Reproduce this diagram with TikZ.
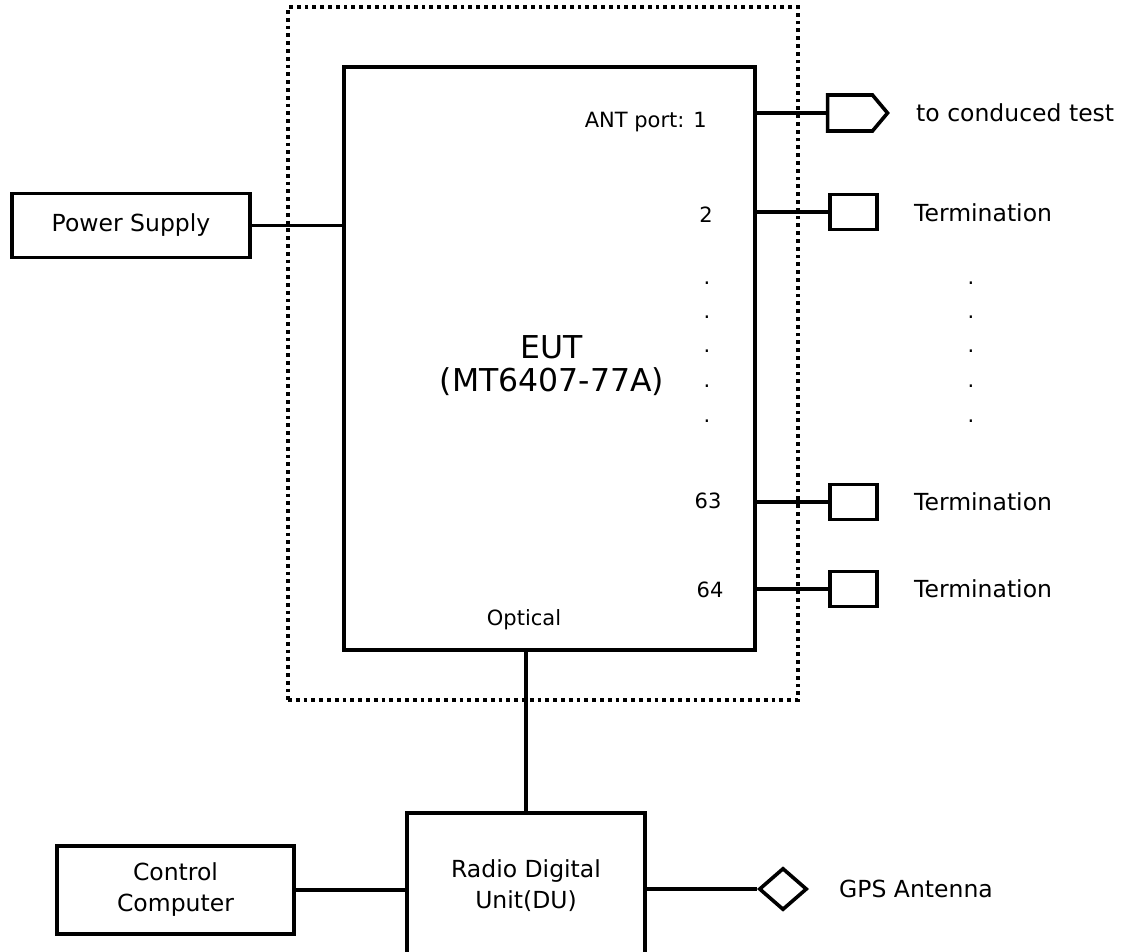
\documentclass[tikz,border=0pt]{standalone}
\usepackage{fontspec}
\setmainfont{DejaVu Sans}
\usetikzlibrary{shapes.geometric,shapes.symbols}
\begin{document}
\begin{tikzpicture}[x=1pt,y=-1pt,
 box/.style={draw,line width=3.6pt,inner sep=0pt,font=\fontsize{23.5}{31}\selectfont,align=center},
 term/.style={draw,line width=3.6pt,minimum width=47pt,minimum height=35pt,inner sep=0pt},
 wire/.style={line width=3.4pt},
 lbl/.style={font=\fontsize{23.5}{31}\selectfont,inner sep=0pt},
 plbl/.style={font=\fontsize{21}{26}\selectfont,inner sep=0pt},
 dotlbl/.style={font=\fontsize{21}{26}\selectfont,inner sep=0pt,anchor=base},
]
\useasboundingbox (0,0) rectangle (1122,951);
\clip (0,0) rectangle (1122,951);
% enclosure
\node[draw,line width=3.8pt,dash pattern=on 3.8pt off 4pt,minimum width=510pt,minimum height=693pt,inner sep=0pt] (enc) at (543,353.5) {};
% EUT
\node[draw,line width=3.6pt,minimum width=411pt,minimum height=583pt,inner sep=0pt] (eut) at (549.5,358.5) {};
\node[font=\fontsize{31.5}{33}\selectfont,align=center,inner sep=0pt] (euttxt) at (552,366) {EUT\\(MT6407-77A)};
% ports
\node[plbl,anchor=base east] (p1) at (707,127) {ANT port: 1};
\node[plbl] (p2) at (706,215) {2};
\node[plbl] (p63) at (708,501) {63};
\node[plbl] (p64) at (710,590) {64};
\node[plbl] (opt) at (524,620) {Optical};
\foreach \yy/\nm in {284/a,318/b,352/c,387/d,422/e}{
  \node[dotlbl] (dl\nm) at (707,\yy) {.};
  \node[dotlbl] (dr\nm) at (971,\yy) {.};
}
% terminations
\node[draw,line width=3.6pt,shape=signal,signal to=east,signal pointer angle=100,minimum width=60pt,minimum height=36pt,inner sep=0pt] (ant) at (850,113) {};
\node[term] (t2) at (853.5,212) {};
\node[term] (t63) at (853.5,502) {};
\node[term] (t64) at (853.5,589) {};
\draw[wire] (eut.east |- ant.west) -- (ant.west);
\draw[wire] (eut.east |- t2.west) -- (t2.west);
\draw[wire] (eut.east |- t63.west) -- (t63.west);
\draw[wire] (eut.east |- t64.west) -- (t64.west);
\node[lbl,anchor=west] (l1) at (916,113) {to conduced test};
\node[lbl,anchor=west] (l2) at (914,213) {Termination};
\node[lbl,anchor=west] (l63) at (914,502) {Termination};
\node[lbl,anchor=west] (l64) at (914,589) {Termination};
% power supply
\node[box,minimum width=238pt,minimum height=64pt] (ps) at (131,225.5) {Power Supply};
\draw[wire] (ps.east) -- (ps.east -| eut.west);
% bottom
\node[box,minimum width=237pt,minimum height=88pt] (cc) at (175.5,890) {Control\\Computer};
\node[draw,line width=3.6pt,minimum width=238pt,minimum height=200pt,inner sep=0pt] (du) at (526,913) {};
\node[lbl,align=center] (dutxt) at (526,886) {Radio Digital\\Unit(DU)};
\node[draw,diamond,line width=3.6pt,minimum width=48pt,minimum height=42pt,inner sep=0pt] (gps) at (783,889) {};
\node[lbl,anchor=west] (gpstxt) at (839,889) {GPS Antenna};
\draw[wire] (cc.east) -- (cc.east -| du.west);
\draw[wire] (du.east |- gps.west) -- (gps.west);
\draw[wire] (eut.south -| du.north) -- (du.north);
\end{tikzpicture}
\end{document}
